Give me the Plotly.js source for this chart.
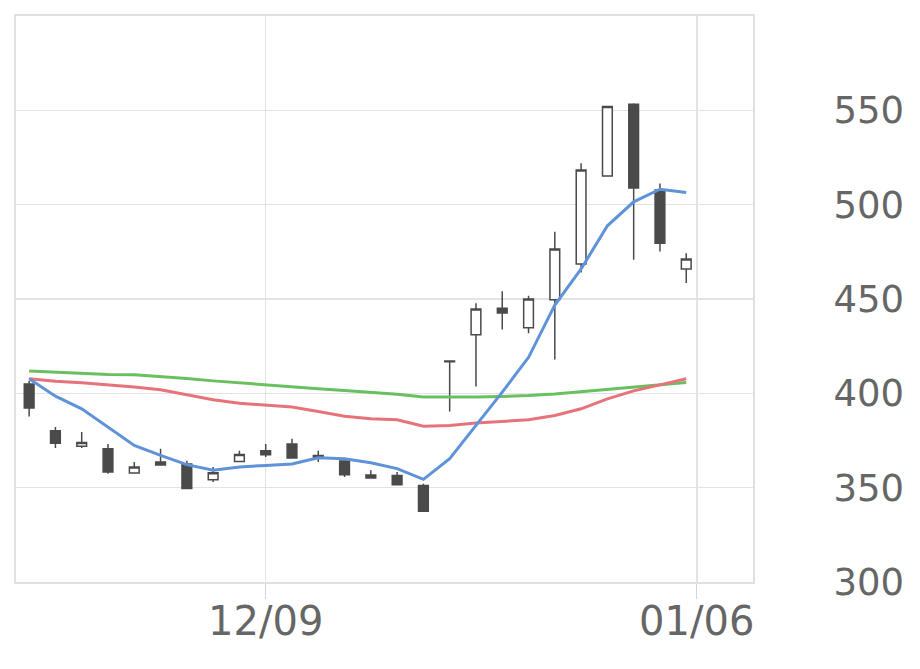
<!DOCTYPE html>
<html>
<head>
<meta charset="utf-8">
<script src="https://cdn.plot.ly/plotly-3.0.1.min.js"></script>
<style>html,body{margin:0;padding:0;background:#fff;}#chart{width:920px;height:669px;}</style>
</head>
<body>
<div id="chart"></div>
<script>
// trading-day index of each candle
var idx = [0,1,2,3,4,5,6,7,8,9,10,11,12,13,14,15,16,17,18,19,20,21,22,23,24,25];
var openV  = [405.0,380.2,371.9,370.6,357.8,363.6,362.5,354.2,363.9,369.6,373.1,367.1,364.1,356.7,356.5,351.2,416.8,431.1,445.1,434.7,449.6,468.5,515.2,553.2,507.8,465.9];
var highV  = [406.5,382.1,379.5,373.1,363.6,370.6,364.3,361.0,369.6,373.1,375.9,369.6,364.5,359.2,358.3,352.1,417.2,447.7,454.1,451.7,485.6,522.0,552.0,553.7,511.2,474.3];
var lowV   = [387.7,371.0,371.0,357.4,357.6,361.8,349.5,353.0,363.5,366.2,365.5,363.6,355.6,355.0,351.4,337.5,390.4,403.6,433.8,431.9,417.9,464.1,514.8,470.8,475.2,458.5];
var closeV = [392.2,373.6,374.0,358.3,361.0,362.0,349.5,357.9,367.6,367.5,365.7,365.7,356.9,355.1,351.6,337.5,417.2,444.7,442.6,450.0,476.5,518.4,552.0,508.9,479.6,471.2];
var maShort = [407.7,398.5,391.8,382.1,372.4,367.1,362.2,359.2,361.0,361.8,362.5,365.9,365.3,363.2,360.1,354.4,365.3,383.0,400.6,419.1,446.8,465.9,488.8,501.5,508.2,506.5];
var maMid   = [407.7,406.4,405.6,404.5,403.3,401.9,399.2,396.6,394.8,393.9,392.7,390.4,387.9,386.5,386.0,382.6,383.0,384.3,385.1,386.0,388.3,391.8,397.1,401.3,404.5,407.7];
var maLong  = [411.9,411.3,410.6,410.0,409.8,408.9,407.8,406.6,405.5,404.6,403.6,402.4,401.5,400.6,399.5,398.0,397.8,398.0,398.3,398.8,399.7,401.0,402.3,403.5,404.6,405.8];
var tickPos = [9, 25.4];
var tickLabels = ['12/09','01/06'];
var yTicks = [300,350,400,450,500,550];

var dark = '#4a4a4a';
var traces = [
  {type:'candlestick', x:idx, open:openV, high:highV, low:lowV, close:closeV,
   increasing:{line:{color:dark,width:1.5}, fillcolor:'#ffffff'},
   decreasing:{line:{color:dark,width:1.5}, fillcolor:dark},
   whiskerwidth:0, showlegend:false, hoverinfo:'none'},
  {type:'scatter', mode:'lines', x:idx, y:maLong, line:{color:'#6abf5e',width:3}, showlegend:false, hoverinfo:'none'},
  {type:'scatter', mode:'lines', x:idx, y:maMid, line:{color:'#e8727a',width:3}, showlegend:false, hoverinfo:'none'},
  {type:'scatter', mode:'lines', x:idx, y:maShort, line:{color:'#5f93d9',width:3}, showlegend:false, hoverinfo:'none'}
];
var layout = {
  width:920, height:669,
  margin:{l:16, r:167, t:16, b:87},
  paper_bgcolor:'#fff', plot_bgcolor:'#fff',
  font:{family:'DejaVu Sans', color:'#666666'},
  showlegend:false,
  boxgap:0.47,
  xaxis:{type:'linear', range:[-0.5,27.54], tickmode:'array', tickvals:tickPos, ticktext:tickLabels,
    showgrid:true, gridcolor:'#e3e3e3', gridwidth:1.5, zeroline:false,
    ticks:'outside', ticklen:15, tickcolor:'#ccd6eb', tickwidth:1, ticklabelstandoff:-12,
    showline:true, linecolor:'#e0e0e0', linewidth:2, mirror:true,
    tickfont:{size:40, color:'#666666'}, rangeslider:{visible:false}, automargin:false, fixedrange:true},
  yaxis:{side:'right', range:[300,600], tickmode:'array', tickvals:yTicks,
    showgrid:true, gridcolor:'#e3e3e3', gridwidth:1.5, zeroline:false,
    ticks:'', ticklabelstandoff:71,
    showline:true, linecolor:'#e0e0e0', linewidth:2, mirror:true,
    tickfont:{size:37, color:'#666666'}, automargin:false, fixedrange:true}
};
Plotly.newPlot('chart', traces, layout, {staticPlot:true, displayModeBar:false});
</script>
</body>
</html>
